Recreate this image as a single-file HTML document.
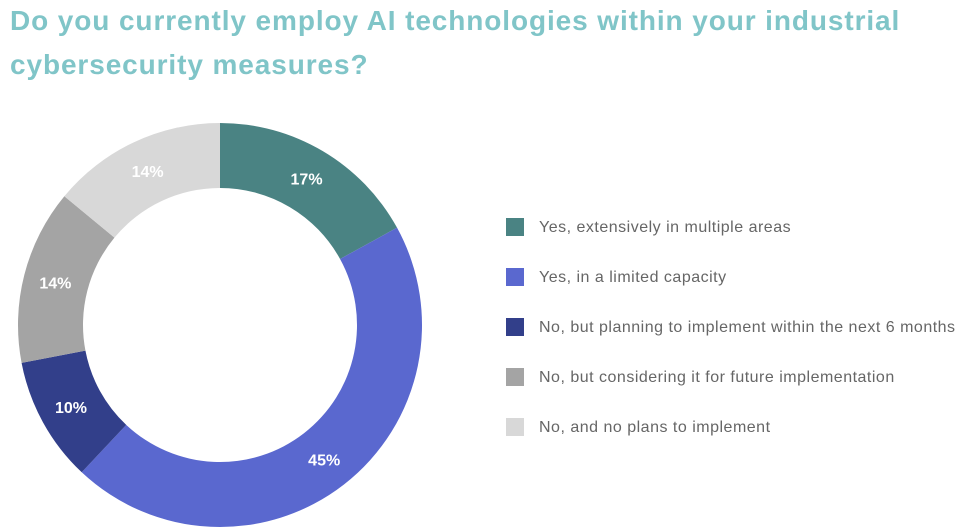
<!DOCTYPE html>
<html><head><meta charset="utf-8"><style>
body{margin:0;background:#fff;width:970px;height:532px;overflow:hidden;font-family:"Liberation Sans",sans-serif}
.t{position:absolute;left:10px;top:-1px;font-size:28px;font-weight:bold;color:#80c5c8;line-height:44px;letter-spacing:0.9px}
</style></head><body>
<div class="t">Do you currently employ AI technologies within your industrial<br>cybersecurity measures?</div>
<svg id="c" width="970" height="532" style="position:absolute;left:0;top:0"></svg>
<script>
const categories=["Yes, extensively in multiple areas","Yes, in a limited capacity","No, but planning to implement within the next 6 months","No, but considering it for future implementation","No, and no plans to implement"];
const values=[17,45,10,14,14];
const colors=["#4a8383","#5a68cf","#323f8a","#a4a4a4","#d8d8d8"];
const svg=document.getElementById('c');const NS="http://www.w3.org/2000/svg";
const cx=220,cy=325,R=202,r=137,LR=170;
const total=values.reduce((a,b)=>a+b,0);
function pt(a,rad){return [cx+rad*Math.sin(a),cy-rad*Math.cos(a)];}
let acc=0;
values.forEach((v,i)=>{
 const a0=acc/total*2*Math.PI;acc+=v;const a1=acc/total*2*Math.PI;
 const lg=(a1-a0)>Math.PI?1:0;
 const [x0,y0]=pt(a0,R),[x1,y1]=pt(a1,R),[x2,y2]=pt(a1,r),[x3,y3]=pt(a0,r);
 const p=document.createElementNS(NS,'path');
 p.setAttribute('d',`M${x0},${y0}A${R},${R} 0 ${lg} 1 ${x1},${y1}L${x2},${y2}A${r},${r} 0 ${lg} 0 ${x3},${y3}Z`);
 p.setAttribute('fill',colors[i]);
 
 
 svg.appendChild(p);
 const [lx,ly]=pt((a0+a1)/2,LR);
 const t=document.createElementNS(NS,'text');
 t.setAttribute('x',lx);t.setAttribute('y',ly+6);t.setAttribute('text-anchor','middle');
 t.setAttribute('fill','#fff');t.setAttribute('font-size','16');t.setAttribute('font-weight','bold');
 t.setAttribute('font-family','Liberation Sans, sans-serif');
 t.textContent=v+'%';
 
 
 svg.appendChild(t);
});
categories.forEach((c,i)=>{
 const y=227+i*50;
 const s=document.createElementNS(NS,'rect');
 s.setAttribute('x',506);s.setAttribute('y',y-9);s.setAttribute('width',18);s.setAttribute('height',18);s.setAttribute('fill',colors[i]);
 
 
 svg.appendChild(s);
 const t=document.createElementNS(NS,'text');
 t.setAttribute('x',539);t.setAttribute('y',y+5);t.setAttribute('fill','#666');t.setAttribute('font-size','16');
 t.setAttribute('letter-spacing','0.5');
 t.setAttribute('font-family','Liberation Sans, sans-serif');
 t.textContent=c;
 
 
 svg.appendChild(t);
});
</script>
</body></html>
